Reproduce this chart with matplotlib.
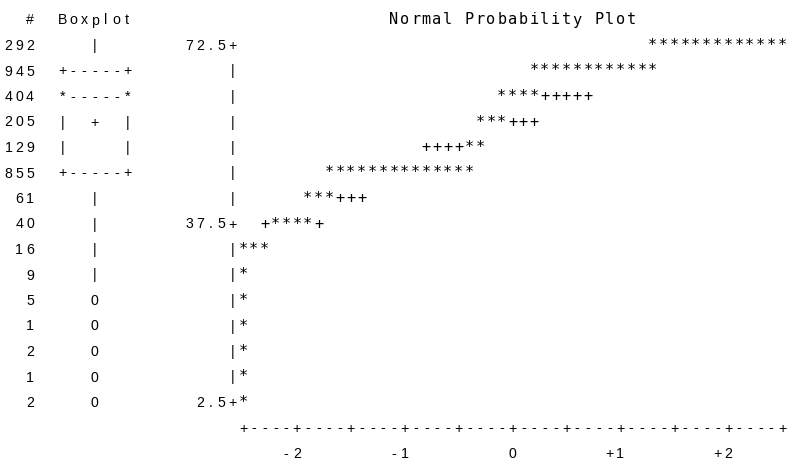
import matplotlib
matplotlib.use('Agg')
import matplotlib.pyplot as plt

# Left table: counts per line and the character boxplot
counts = [292, 945, 404, 205, 129, 855, 61, 40, 16, 9, 5, 1, 2, 1, 2]
box_rows = ['   |', '+-----+', '*-----*', '|  +  |', '|     |', '+-----+',
            '   |', '   |', '   |', '   |', '   0', '   0', '   0', '   0', '   0']

# Normal probability plot: y value of each line, z of first symbol, symbols
row_values = [72.5, 67.5, 62.5, 57.5, 52.5, 47.5, 42.5, 37.5,
              32.5, 27.5, 22.5, 17.5, 12.5, 7.5, 2.5]
row_start_z = [1.3, 0.2, -0.1, -0.3, -0.8, -1.7, -1.9, -2.3,
               -2.5, -2.5, -2.5, -2.5, -2.5, -2.5, -2.5]
row_symbols = ['*************', '************', '****+++++', '***+++', '++++**',
               '**************', '***+++', '+****+',
               '***', '*', '*', '*', '*', '*', '*']
y_ticks = [72.5, 37.5, 2.5]
x_ticks = [-2, -1, 0, 1, 2]
x_tick_labels = ['-2', '-1', '0', '+1', '+2']
title = 'Normal Probability Plot'

W, H = 801, 466
PITCH = 10.78   # px per character column
ROWH = 25.5     # px per text line
BASE0 = 50      # baseline of first data line, px from top
ZSTEP = 0.1     # z per character column
VSTEP = 5.0     # y value per text line

SANS = dict(family='Liberation Sans', fontsize=10.2, color='black')
MONO = dict(family='DejaVu Sans Mono', fontsize=11, color='black')


def put(axis, x, y, s, step, style):
    for i, ch in enumerate(s):
        if ch != ' ':
            axis.text(x + i * step, y, ch, ha='center', va='baseline', **style)


fig = plt.figure(figsize=(W / 100, H / 100), dpi=100)

# plot block in (z, value) coordinates
x0 = 243
ax = fig.add_axes([x0 / W, 1 - (BASE0 + 14 * ROWH) / H, 50 * PITCH / W, 14 * ROWH / H])
ax.set_xlim(-2.5, 2.5)
ax.set_ylim(2.5, 72.5)
ax.axis('off')

# table block in (column, line) coordinates
tab = fig.add_axes([0, 0, 1, 1])
tab.set_xlim(-8.5 / PITCH, (W - 8.5) / PITCH)
tab.set_ylim(1 + (H - BASE0) / ROWH, 1 - BASE0 / ROWH)
tab.axis('off')
tab.patch.set_alpha(0)

# table header and lines
put(tab, 2, 0, '#', 1, SANS)
put(tab, 5, 0, 'Boxplot', 1, SANS)
for r, (c, b) in enumerate(zip(counts, box_rows), start=1):
    s = str(c)
    put(tab, 3 - len(s), r, s, 1, SANS)
    put(tab, 5, r, b, 1, SANS)

# title
top = max(row_values) + VSTEP
put(ax, -ZSTEP * (len(title) - 1) / 2, top, title, ZSTEP, MONO)

# vertical axis and its labels
zmin, zmax = ax.get_xlim()
for v in row_values:
    ax.text(zmin - ZSTEP, v, '+' if v in y_ticks else '|',
            ha='center', va='baseline', **SANS)
for v in y_ticks:
    s = f'{v:.1f}'
    put(ax, zmin - ZSTEP * (len(s) + 1), v, s, ZSTEP, SANS)

# points and reference line symbols
for v, z, sym in zip(row_values, row_start_z, row_symbols):
    put(ax, z, v, sym, ZSTEP, MONO)

# horizontal axis
yaxis = min(row_values) - VSTEP
ncol = int(round((zmax - zmin) / ZSTEP))
axis_art = ''.join('+' if i % 5 == 0 else '-' for i in range(ncol + 1))
put(ax, zmin, yaxis, axis_art, ZSTEP, SANS)
for t, lab in zip(x_ticks, x_tick_labels):
    put(ax, t - ZSTEP * (len(lab) - 1), yaxis - VSTEP, lab, ZSTEP, SANS)

fig.savefig('out.png', dpi=100)
